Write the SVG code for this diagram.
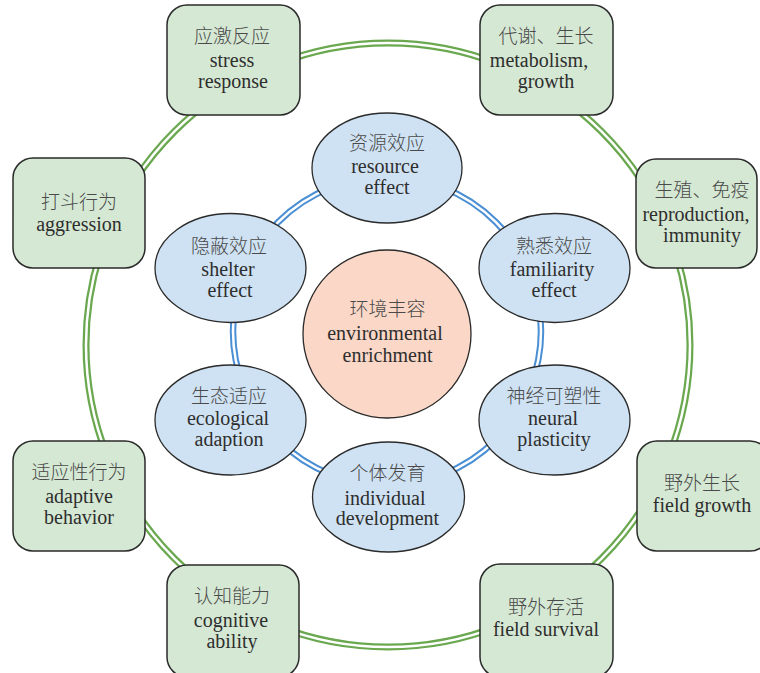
<svg xmlns="http://www.w3.org/2000/svg" width="760" height="673" viewBox="0 0 760 673">
<style>
.box{fill:#d5e8d4;stroke:#2a2a2a;stroke-width:1.5}
.ell{fill:#cfe2f3;stroke:#2a2a2a;stroke-width:1.3}
.core{fill:#fad7c7;stroke:#2a2a2a;stroke-width:1.3}
.rg{fill:none;stroke:#6aa84f;stroke-width:7}
.rb{fill:none;stroke:#4a8fd4;stroke-width:6.5}
.gap{fill:none;stroke:#ffffff;stroke-width:2.5}
text{font-family:"Liberation Serif",Tinos,"Times New Roman","DejaVu Serif",serif;font-size:20px;fill:#2e2e2e;text-anchor:middle}
text.zh{font-family:"Noto Sans CJK SC","Noto Sans CJK TC",sans-serif;font-size:19px;fill:#4a4a4a;font-weight:300}
</style>
<rect width="760" height="673" fill="#ffffff"/>
<g id="connectors">
<circle class="rg" cx="388" cy="345" r="302"/>
<circle class="gap" cx="388" cy="345" r="302"/>
<circle class="rb" cx="387" cy="331" r="154"/>
<circle class="gap" cx="387" cy="331" r="154"/>
</g>
<g id="stress">
<rect class="box" x="167" y="5" width="133" height="110" rx="20"/>
<text class="zh" x="232" y="43">应激反应</text>
<text x="232" y="67">stress</text>
<text x="233" y="88">response</text>
</g>
<g id="metabolism">
<rect class="box" x="480" y="5" width="133" height="110" rx="20"/>
<text class="zh" x="546" y="43">代谢、生长</text>
<text x="539" y="67">metabolism,</text>
<text x="546" y="88">growth</text>
</g>
<g id="reproduction">
<rect class="box" x="636" y="159" width="121" height="109" rx="20"/>
<text class="zh" x="702" y="197">生殖、免疫</text>
<text x="696" y="221">reproduction,</text>
<text x="702" y="242">immunity</text>
</g>
<g id="aggression">
<rect class="box" x="13" y="158" width="132" height="110" rx="20"/>
<text class="zh" x="79" y="209">打斗行为</text>
<text x="79" y="231">aggression</text>
</g>
<g id="adaptive">
<rect class="box" x="13" y="441" width="132" height="110" rx="20"/>
<text class="zh" x="79" y="479">适应性行为</text>
<text x="79" y="503">adaptive</text>
<text x="79" y="524">behavior</text>
</g>
<g id="fieldgrowth">
<rect class="box" x="637" y="441" width="133" height="110" rx="20"/>
<text class="zh" x="702" y="490">野外生长</text>
<text x="702" y="512">field growth</text>
</g>
<g id="cognitive">
<rect class="box" x="167" y="565" width="132" height="112" rx="20"/>
<text class="zh" x="232" y="603">认知能力</text>
<text x="231" y="627">cognitive</text>
<text x="232" y="648">ability</text>
</g>
<g id="fieldsurvival">
<rect class="box" x="480" y="564" width="133" height="113" rx="20"/>
<text class="zh" x="546" y="614">野外存活</text>
<text x="546" y="636">field survival</text>
</g>
<g id="resource">
<ellipse class="ell" cx="387" cy="168" rx="75" ry="55"/>
<text class="zh" x="387" y="150">资源效应</text>
<text x="385" y="173">resource</text>
<text x="387" y="194">effect</text>
</g>
<g id="shelter">
<ellipse class="ell" cx="230.5" cy="268" rx="75.5" ry="54.5"/>
<text class="zh" x="229" y="253">隐蔽效应</text>
<text x="228" y="276">shelter</text>
<text x="230" y="297">effect</text>
</g>
<g id="familiarity">
<ellipse class="ell" cx="554.5" cy="268" rx="75.5" ry="54.5"/>
<text class="zh" x="554" y="253">熟悉效应</text>
<text x="552" y="276">familiarity</text>
<text x="554" y="297">effect</text>
</g>
<g id="ecological">
<ellipse class="ell" cx="230.5" cy="420" rx="75.5" ry="55"/>
<text class="zh" x="229" y="403">生态适应</text>
<text x="228" y="425">ecological</text>
<text x="229" y="446">adaption</text>
</g>
<g id="neural">
<ellipse class="ell" cx="554.5" cy="420" rx="75.5" ry="55"/>
<text class="zh" x="554" y="403">神经可塑性</text>
<text x="553" y="425">neural</text>
<text x="554" y="446">plasticity</text>
</g>
<g id="individual">
<ellipse class="ell" cx="388.5" cy="497" rx="76" ry="55"/>
<text class="zh" x="387.5" y="480">个体发育</text>
<text x="385" y="505">individual</text>
<text x="387.5" y="525">development</text>
</g>
<g id="core">
<circle class="core" cx="387" cy="334" r="84"/>
<text class="zh" x="387.5" y="316">环境丰容</text>
<text x="385" y="340">environmental</text>
<text x="387.5" y="362">enrichment</text>
</g>
</svg>
